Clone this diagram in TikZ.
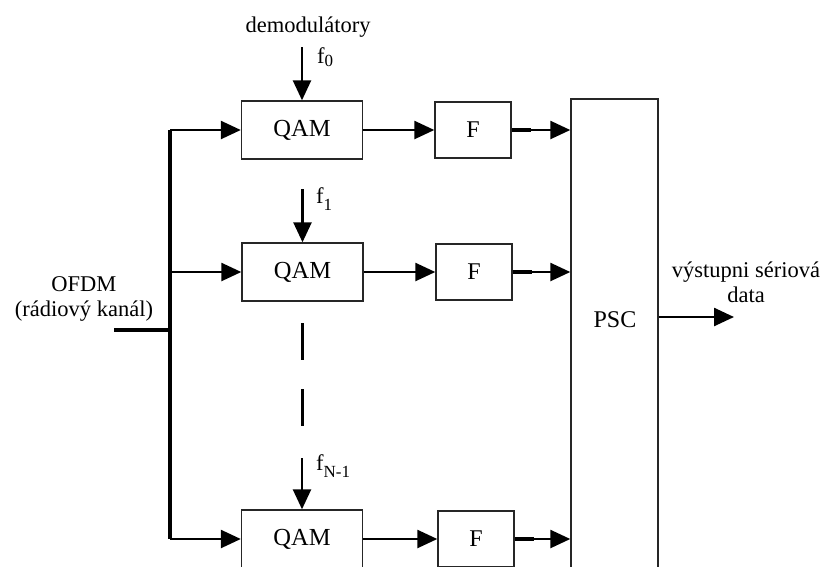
\documentclass[tikz,border=0pt]{standalone}
\usepackage{fontspec}
\setmainfont{Liberation Serif}
\usetikzlibrary{arrows.meta}
\newcommand\fsubx[2]{f\raisebox{#1}{\fontsize{17}{17}\selectfont #2}}
\begin{document}
\begin{tikzpicture}[x=1pt,y=-1pt,
  every node/.style={font=\fontsize{22.5}{25}\selectfont},
  blk/.style={draw=black!85, line width=1.4pt, minimum width=121pt, minimum height=58pt, inner sep=0pt, font=\fontsize{24.5}{26}\selectfont},
  fblk/.style={draw=black!85, line width=1.4pt, minimum width=76pt, minimum height=56pt, inner sep=0pt, font=\fontsize{24}{26}\selectfont},
  arr/.style={line width=2.5pt, -{Triangle[length=20pt,width=18pt]}},
  bus/.style={line width=4pt},
  lbl/.style={inner sep=0pt}]
\useasboundingbox (0,0) rectangle (823,566);
\clip (0,0) rectangle (823,566);

% blocks
\node[blk] (q1) at (302,130) {QAM};
\node[blk] (q2) at (302.5,272) {QAM};
\node[blk] (q3) at (302,539) {QAM};
\node[fblk] (F1) at (473,130) {F};
\node[fblk] (F2) at (474,272) {F};
\node[fblk] (F3) at (476,539) {F};
\node[draw=black!85, line width=1.4pt, minimum width=87pt, minimum height=501pt, inner sep=0pt] (psc) at (614.5,349.5) {};
\node[lbl, font=\fontsize{24}{26}\selectfont] (psclbl) at (615,320) {PSC};

% texts
\node[lbl] (demod) at (308,27) {demodulátory};
\node[lbl, anchor=west] (lf0) at (317,57) {\fsubx{-0.35ex}{0}};
\node[lbl, anchor=west] (lf1) at (316,199) {\fsubx{-0.6ex}{1}};
\node[lbl, anchor=west] (lfn) at (316,466) {\fsubx{-0.6ex}{N-1}};
\node[lbl, align=center] (ofdm) at (84,299) {OFDM\\(rádiový kanál)};
\node[lbl, align=center] (outlbl) at (746,282) {výstupni sériová\\data};

% coordinates
\coordinate (f0s) at (302,47);
\coordinate (f1s) at (302.5,189);
\coordinate (fns) at (302,458);
\coordinate (d1) at (302.5,323);
\coordinate (d2) at (302.5,428);
\coordinate (in) at (114,330);
\coordinate (btop) at (170,130);
\coordinate (bbot) at (170,539);
\coordinate (outend) at (734,317);

% bus
\draw[bus] (btop) -- (bbot);
\draw[bus] (in) -- (in -| btop);
\draw[arr] (btop) -- (q1.west);
\draw[arr] (q2.west -| btop) -- (q2.west);
\draw[arr] (bbot) -- (q3.west);

% carrier arrows
\draw[arr] (f0s) -- (q1.north);
\draw[arr] (f1s) -- (q2.north);
\draw[arr] (fns) -- (q3.north);
\draw[line width=2.5pt, dash pattern=on 37pt off 29pt] (d1) -- (d2);

% QAM -> F
\draw[arr] (q1.east) -- (F1.west);
\draw[arr] (q2.east) -- (F2.west);
\draw[arr] (q3.east) -- (F3.west);

% F -> PSC
\foreach \f in {F1,F2,F3}{
  \draw[line width=4pt] (\f.east) -- ++(19,0);
  \draw[arr] (\f.east) -- (\f.east -| psc.west);
}

% output
\draw[arr] (outend -| psc.east) -- (outend);
\end{tikzpicture}
\end{document}
